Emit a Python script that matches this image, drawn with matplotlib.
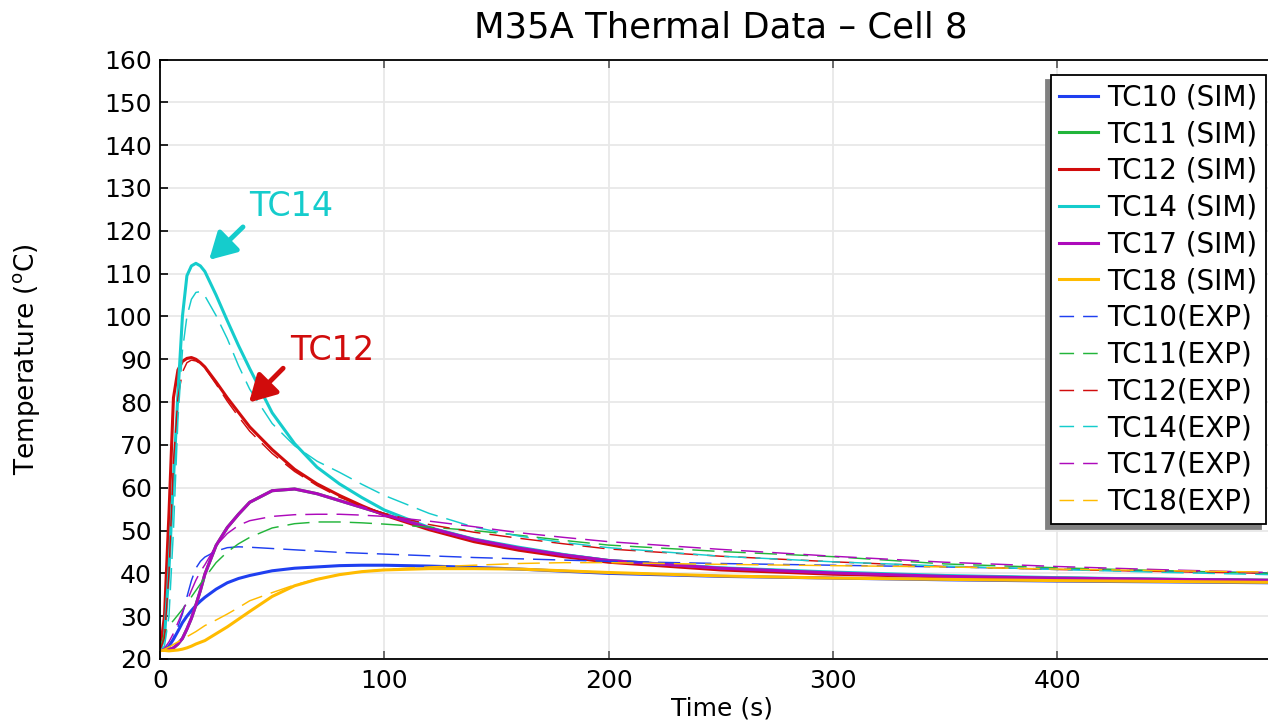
import matplotlib
matplotlib.use("Agg")
import matplotlib.pyplot as plt
from matplotlib.lines import Line2D

plt.rcParams["font.family"] = ["DejaVu Sans"]
plt.rcParams["lines.scale_dashes"] = False

# Sample times (s)
time_s = [0, 2, 4, 6, 8, 10, 12, 14, 16, 18, 20, 25, 30, 35, 40, 50, 60, 70, 80, 90,
          100, 120, 140, 160, 180, 200, 250, 300, 350, 400, 450, 495]

# Simulated thermocouple temperatures (degC)
tc10_sim = [22, 22, 23, 24.6, 26.5, 28.5, 30, 31.3, 32.5, 33.5, 34.4, 36.3, 37.8, 38.8, 39.5, 40.6, 41.2, 41.5, 41.8, 41.9,
            41.9, 41.7, 41.4, 41.0, 40.5, 40.0, 39.3, 38.9, 38.5, 38.2, 38.0, 37.8]
tc17_sim = [22, 22, 22.2, 22.6, 23.5, 24.8, 27.0, 29.5, 32.6, 36.0, 39.8, 46.5, 50.7, 53.8, 56.6, 59.3, 59.7, 58.6, 57.0, 55.4,
            53.8, 50.6, 47.9, 45.9, 44.3, 43.0, 41.2, 40.1, 39.3, 38.9, 38.6, 38.4]
tc11_sim = list(tc17_sim)  # symmetric location, same simulated response
tc12_sim = [22, 30, 54, 81, 87.5, 89.5, 90.2, 90.4, 90.0, 89.2, 88.2, 84.7, 81.0, 77.6, 74.2, 68.9, 64.3, 60.9, 58.2, 55.8,
            53.6, 50.2, 47.4, 45.4, 43.9, 42.6, 40.8, 39.8, 39.2, 38.8, 38.5, 38.3]
tc14_sim = [22, 25, 41, 62, 82, 100, 109.5, 111.8, 112.4, 111.8, 110.5, 105.0, 99.0, 93.2, 87.8, 77.5, 70.3, 64.8, 60.9, 57.7,
            54.8, 50.7, 48.0, 46.1, 44.4, 43.0, 41.3, 40.3, 39.5, 39.0, 38.6, 38.3]
tc18_sim = [22, 22, 21.9, 22, 22.1, 22.3, 22.6, 23.0, 23.5, 23.9, 24.3, 25.9, 27.5, 29.3, 31.1, 34.6, 37.1, 38.6, 39.7, 40.4,
            40.8, 41.1, 41.1, 41.0, 40.6, 40.2, 39.4, 38.9, 38.6, 38.3, 38.1, 37.9]

# Measured thermocouple temperatures (degC)
tc10_exp = [22, 22.5, 23, 25, 27.5, 30.5, 34.5, 38.3, 41.2, 42.8, 43.8, 45.2, 46.0, 46.2, 46.1, 45.8, 45.5, 45.2, 44.9, 44.7,
            44.5, 44.1, 43.7, 43.4, 43.1, 42.8, 42.3, 41.9, 41.5, 41.0, 40.5, 40.1]
tc11_exp = [22, 26, 27.8, 29, 30.3, 31.6, 33, 34.5, 36, 37.5, 39, 42.5, 45.0, 46.9, 48.4, 50.6, 51.6, 52.0, 52.0, 51.8,
            51.5, 50.8, 50.0, 48.9, 47.7, 46.6, 45.1, 43.9, 42.2, 41.3, 40.6, 40.0]
tc12_exp = [22, 25, 40, 66, 81, 87, 89.2, 89.8, 89.6, 89.0, 88.0, 84.2, 80.2, 76.6, 73.2, 68.0, 63.8, 60.5, 57.8, 55.7,
            54.0, 51.4, 49.6, 48.2, 46.9, 45.7, 44.0, 42.7, 41.6, 40.9, 40.4, 40.0]
tc14_exp = [22, 23, 30, 50, 76, 92, 100, 104, 105.6, 105.8, 104.8, 100.2, 94.8, 88.5, 83.0, 75.0, 69.8, 66.2, 63.6, 60.8,
            58.2, 54.0, 50.8, 48.7, 47.2, 46.0, 44.0, 42.7, 41.7, 40.9, 40.2, 39.7]
tc17_exp = [22, 22.5, 24, 26, 28.5, 31, 33.5, 36, 38.4, 40.4, 42.0, 46.5, 49.3, 51.2, 52.3, 53.3, 53.7, 53.8, 53.8, 53.6,
            53.3, 52.2, 50.9, 49.5, 48.4, 47.4, 45.6, 44.0, 42.6, 41.6, 40.8, 40.2]
tc18_exp = [22, 22.3, 22.8, 23.4, 24, 24.6, 25.2, 25.8, 26.4, 27.1, 27.8, 29.1, 30.5, 32.0, 33.6, 35.5, 37.3, 38.7, 39.7, 40.4,
            40.9, 41.5, 41.9, 42.3, 42.5, 42.5, 42.1, 41.8, 41.5, 41.0, 40.6, 40.3]

sensor_names = ["TC10", "TC11", "TC12", "TC14", "TC17", "TC18"]
sim_series = [tc10_sim, tc11_sim, tc12_sim, tc14_sim, tc17_sim, tc18_sim]
exp_series = [tc10_exp, tc11_exp, tc12_exp, tc14_exp, tc17_exp, tc18_exp]
sensor_colors = ["#1f3ff0", "#22b53a", "#d10c0c", "#15cccc", "#ad0abb", "#ffbb00"]

fig = plt.figure(figsize=(12.68, 7.22), dpi=100)
ax = fig.add_axes([160 / 1268, 1 - 659 / 722, 1 - 160 / 1268, 599.5 / 722])

handles = []
for name, vals, col in zip(sensor_names, sim_series, sensor_colors):
    ax.plot(time_s, vals, color=col, lw=2.2, solid_joinstyle="round")
    handles.append(Line2D([], [], color=col, lw=2.2, label=f"{name} (SIM)"))
for name, vals, col in zip(sensor_names, exp_series, sensor_colors):
    ax.plot(time_s, vals, color=col, lw=1.05, dashes=(16, 6.5))
    handles.append(Line2D([], [], color=col, lw=1.05, dashes=(10.5, 6.5), label=f"{name}(EXP)"))

ax.set_xlim(0, 494)
ax.set_ylim(20, 160)
ax.set_xticks([0, 100, 200, 300, 400])
ax.set_yticks(range(20, 161, 10))
ax.grid(True, color="#e8e8e8", lw=1.3)
ax.set_axisbelow(True)
ax.spines["right"].set_visible(False)
for s in ("left", "bottom", "top"):
    ax.spines[s].set_linewidth(1.3)
ax.tick_params(axis="y", direction="in", length=6, width=1.2, color="black",
               labelsize=18, pad=6)
ax.tick_params(axis="x", direction="in", length=6, width=1.2, color="#555555",
               labelsize=18, pad=7, top=True)

ax.set_ylabel("Temperature ($^\\mathregular{o}$C)", fontsize=19)
ax.yaxis.set_label_coords(-0.1065, 0.5)
ax.set_xlabel("Time (s)", fontsize=18)
ax.xaxis.set_label_coords(0.507, -0.062)

fig.text(721 / 1268, 1 - 27 / 722, "M35A Thermal Data \u2013 Cell 8", fontsize=25.5,
         ha="center", va="center")

# Callouts for the two hottest sensors
ax.text(58.5, 125.6, "TC14", color=sensor_colors[3], fontsize=24, ha="center", va="center")
ax.annotate("", xy=(21.9, 113.2), xytext=(37.0, 120.9),
            arrowprops=dict(arrowstyle="-|>,head_length=0.8,head_width=0.45",
                            mutation_scale=20, lw=3.5, color=sensor_colors[3],
                            shrinkA=0, shrinkB=0))
ax.text(76.8, 92.1, "TC12", color=sensor_colors[2], fontsize=24, ha="center", va="center")
ax.annotate("", xy=(39.7, 79.9), xytext=(54.9, 87.9),
            arrowprops=dict(arrowstyle="-|>,head_length=0.8,head_width=0.45",
                            mutation_scale=20, lw=3.5, color=sensor_colors[2],
                            shrinkA=0, shrinkB=0))

leg = ax.legend(handles=handles, loc="upper right",
                bbox_to_anchor=(1266 / 1268, 1 - 75 / 722), bbox_transform=fig.transFigure,
                borderaxespad=0, fontsize=20, labelspacing=0.315, borderpad=0.3,
                handlelength=1.4, handletextpad=0.33, fancybox=False, framealpha=1,
                edgecolor="black",
                shadow={"ox": -3.6, "oy": -3.6, "color": "#808080", "alpha": 1})
leg.get_frame().set_linewidth(1.3)

fig.savefig("out.png", dpi=100)
